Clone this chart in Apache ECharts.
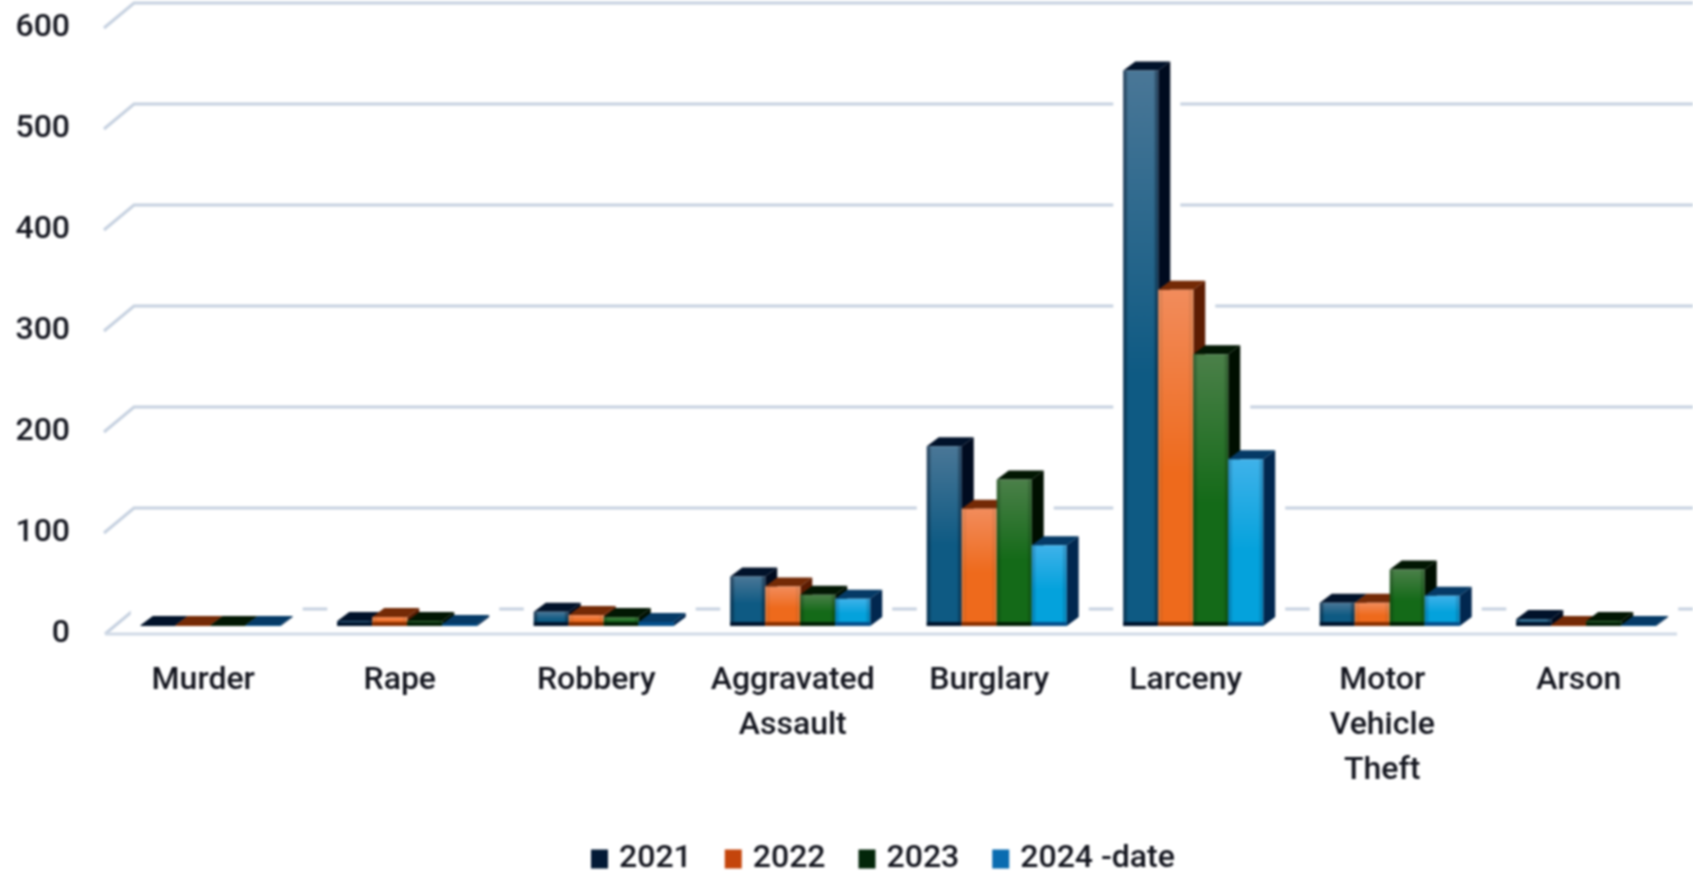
<!DOCTYPE html>
<html>
<head>
<meta charset="utf-8">
<style>
html,body{margin:0;padding:0;background:#fff;}
#chart{width:1693px;height:872px;filter:blur(1px);}
</style>
<script src="https://cdn.jsdelivr.net/npm/echarts@6/dist/echarts.min.js"></script>
</head>
<body>
<div id="chart"></div>
<script>
const categories = ['Murder','Rape','Robbery','Aggravated\nAssault','Burglary','Larceny','Motor\nVehicle\nTheft','Arson'];
const yTicks = [0,100,200,300,400,500,600];
const seriesNames = ['2021','2022','2023','2024 -date'];
const values2021 = [1,5,14,49,178,550,23,7];
const values2022 = [1,9,11,39,116,333,23,1];
const values2023 = [1,5,9,31,145,269,56,5];
const values2024 = [1,2,4,27,80,165,30,1];
const allValues = [values2021,values2022,values2023,values2024];

const legendColors = ['#031a36','#c4450c','#03260a','#0a6cb0'];
const palette = [
  {light:'#4a7797',base:'#0e5a83',top:'#01122a',side:'#000b1f',foot:'#00152e',edge:'rgba(0,15,45,0.6)'},
  {light:'#f28c5c',base:'#ee6a1c',top:'#742a06',side:'#5c1c02',foot:'#8a3000',edge:'rgba(255,190,130,0.35)'},
  {light:'#4b8049',base:'#146a18',top:'#021703',side:'#000f00',foot:'#022005',edge:'rgba(0,30,0,0.35)'},
  {light:'#3fb2ea',base:'#04a2dc',top:'#053a66',side:'#01274f',foot:'#05508c',edge:'rgba(0,60,120,0.35)'}
];

const BAR_SHARE = 0.178, PLANE_DX = 7.5, PLANE_DY = 8, DEPTH_DX = 12, DEPTH_DY = 9;
const WALL_DX = 30, WALL_DY = 25, HALO = 10;

function barBox(api, i, v, s){
  const c = api.coord([i, v]);
  const zero = api.coord([i, 0]);
  const w = api.size([1, 0])[0] * BAR_SHARE;
  const left = c[0] + (s - 2) * w + PLANE_DX;
  return {left, w, top: c[1] - PLANE_DY, bottom: zero[1] - PLANE_DY};
}

function renderGrid(params, api){
  const cs = params.coordSys;
  const y = api.coord([0, api.value(1)])[1];
  const x0 = cs.x + (api.value(1) === 0 ? 0 : -1);
  const kids = [{
    type:'polyline',
    shape:{points:[[x0,y],[x0+WALL_DX,y-WALL_DY],[1693,y-WALL_DY]]},
    style:{fill:null,stroke:'#c6d1e0',lineWidth:3}
  }];
  if(api.value(1) === 0){
    kids.push({type:'line',shape:{x1:cs.x,y1:y,x2:cs.x+cs.width,y2:y},style:{stroke:'#cfd9e6',lineWidth:3}});
  }
  return {type:'group',children:kids};
}

function renderHalo(params, api){
  const i = api.value(0), kids = [];
  for(let s = 0; s < 4; s++){
    const b = barBox(api, i, api.value(s + 1), s);
    kids.push({type:'rect',
      shape:{x:b.left-HALO,y:b.top-DEPTH_DY-HALO,width:b.w+DEPTH_DX+2*HALO,height:b.bottom-b.top+DEPTH_DY+HALO},
      style:{fill:'#ffffff'}});
  }
  return {type:'group',children:kids};
}

function makeRenderBar(s){
  const p = palette[s];
  return function(params, api){
    const b = barBox(api, api.value(0), api.value(1), s);
    const l = b.left, r = b.left + b.w, t = b.top, f = b.bottom;
    const h = Math.max(f - t, 0.5);
    return {type:'group',children:[
      {type:'polygon',shape:{points:[[r,t],[r+DEPTH_DX,t-DEPTH_DY],[r+DEPTH_DX,f-DEPTH_DY],[r,f]]},style:{fill:p.side}},
      {type:'polygon',shape:{points:[[l,t],[l+DEPTH_DX,t-DEPTH_DY],[r+DEPTH_DX,t-DEPTH_DY],[r,t]]},style:{fill:p.top}},
      {type:'rect',shape:{x:l,y:t,width:b.w,height:h},style:{
        fill:new echarts.graphic.LinearGradient(0,0,0,1,[
          {offset:0,color:p.light},{offset:0.55,color:p.base},{offset:1,color:p.base}])}},
      {type:'rect',shape:{x:l,y:t,width:b.w,height:h},style:{
        fill:new echarts.graphic.LinearGradient(0,0,1,0,[
          {offset:0,color:p.edge},{offset:0.14,color:'rgba(0,0,0,0)'},
          {offset:0.86,color:'rgba(0,0,0,0)'},{offset:1,color:p.edge}])}},
      {type:'rect',shape:{x:l,y:f-Math.min(4,h),width:b.w,height:Math.min(4,h)},style:{fill:p.foot}}
    ]};
  };
}

const chart = echarts.init(document.getElementById('chart'));
const fontBase = {fontFamily:'Roboto',fontSize:32,fontWeight:500,color:'#14161f'};

chart.setOption({
  animation:false,
  backgroundColor:'#ffffff',
  grid:{left:105,right:16,top:28,bottom:238,containLabel:false},
  legend:{
    left:586,top:838,icon:'rect',itemWidth:17,itemHeight:19,itemGap:33,
    data:seriesNames,
    textStyle:{fontFamily:'Roboto',fontSize:32,fontWeight:500,color:'#14161f',padding:[0,0,0,6]}
  },
  xAxis:{
    type:'category',data:categories,
    axisLine:{show:false},axisTick:{show:false},splitLine:{show:false},
    axisLabel:Object.assign({interval:0,margin:24,lineHeight:45},fontBase)
  },
  yAxis:{
    type:'value',min:0,max:600,interval:100,
    axisLine:{show:false},axisTick:{show:false},splitLine:{show:false},
    axisLabel:Object.assign({margin:35,padding:[4,0,0,0]},fontBase)
  },
  series:[
    {type:'custom',name:'grid',silent:true,z:1,encode:{x:0,y:1},
     data:yTicks.map(t=>[0,t]),renderItem:renderGrid},
    {type:'custom',name:'halo',silent:true,z:2,encode:{x:0,y:[1,2,3,4]},
     data:categories.map((c,i)=>[i,values2021[i],values2022[i],values2023[i],values2024[i]]),renderItem:renderHalo}
  ].concat(seriesNames.map((n,s)=>({
    type:'custom',name:n,z:3,encode:{x:0,y:1},
    itemStyle:{color:legendColors[s]},
    data:allValues[s].map((v,i)=>[i,v]),
    renderItem:makeRenderBar(s)
  })))
});
</script>
</body>
</html>
